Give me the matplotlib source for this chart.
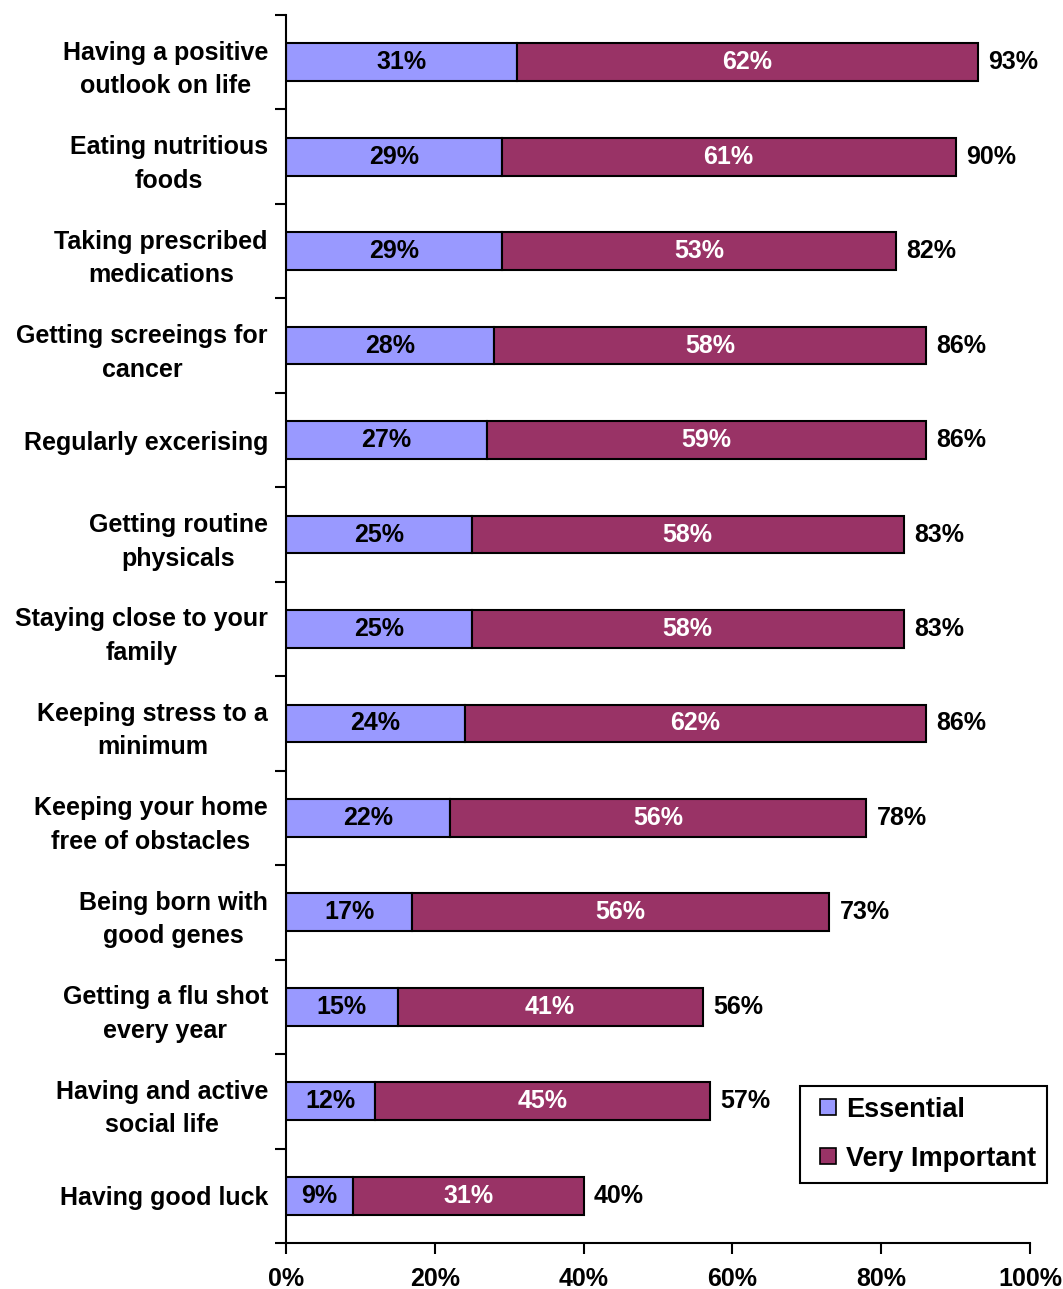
import matplotlib
matplotlib.use('Agg')
from matplotlib import pyplot as plt
from matplotlib.lines import Line2D
import numpy as np

plt.rcParams['font.family'] = ['Liberation Sans', 'DejaVu Sans']
plt.rcParams['font.weight'] = 'bold'

categories = ['Having a positive\noutlook on life', 'Eating nutritious\nfoods',
              'Taking prescribed\nmedications', 'Getting screeings for\ncancer',
              'Regularly excerising', 'Getting routine\nphysicals',
              'Staying close to your\nfamily', 'Keeping stress to a\nminimum',
              'Keeping your home\nfree of obstacles', 'Being born with\ngood genes',
              'Getting a flu shot\nevery year', 'Having and active\nsocial life',
              'Having good luck']
essential = [31, 29, 29, 28, 27, 25, 25, 24, 22, 17, 15, 12, 9]
very_important = [62, 61, 53, 58, 59, 58, 58, 62, 56, 56, 41, 45, 31]
totals = [93, 90, 82, 86, 86, 83, 83, 86, 78, 73, 56, 57, 40]

c_ess = '#9999FF'
c_vi = '#993366'
fs = 18

fig = plt.figure(figsize=(10.63, 12.89), dpi=100)
ax = fig.add_axes([0.269, 0.0357, 0.7, 0.9527])

y = np.arange(len(categories))
ax.barh(y, essential, height=0.4, color=c_ess, edgecolor='black', linewidth=1.5)
ax.barh(y, very_important, left=essential, height=0.4, color=c_vi,
        edgecolor='black', linewidth=1.5)

for i in range(len(categories)):
    ax.text(essential[i] / 2, y[i], '%d%%' % essential[i], ha='center', va='center',
            fontsize=fs, fontweight='bold', color='black')
    ax.text(essential[i] + very_important[i] / 2, y[i], '%d%%' % very_important[i],
            ha='center', va='center', fontsize=fs, fontweight='bold', color='white')
    ax.text(essential[i] + very_important[i] + 1.4, y[i], '%d%%' % totals[i],
            ha='left', va='center', fontsize=fs, fontweight='bold', color='black')

ax.set_xlim(0, 100)
ax.set_ylim(len(categories) - 0.5, -0.5)
ax.set_xticks(np.arange(0, 101, 20))
ax.set_xticklabels(['%d%%' % v for v in range(0, 101, 20)], fontsize=fs, fontweight='bold')
ax.set_yticks(y)
ax.set_yticklabels(categories, fontsize=fs, fontweight='bold', linespacing=1.5,
                   multialignment='center')
ax.set_yticks(np.arange(-0.5, len(categories), 1), minor=True)
ax.tick_params(axis='y', which='major', length=0, pad=13)
ax.tick_params(axis='y', which='minor', length=8, width=1.5, direction='out')
ax.tick_params(axis='x', which='major', length=8, width=1.5, direction='out', pad=9)

for s in ['top', 'right']:
    ax.spines[s].set_visible(False)
for s in ['left', 'bottom']:
    ax.spines[s].set_linewidth(1.5)

handles = [Line2D([], [], marker='s', linestyle='none', markersize=11,
                  markerfacecolor=c_ess, markeredgecolor='black', markeredgewidth=1.2,
                  label='Essential'),
           Line2D([], [], marker='s', linestyle='none', markersize=11,
                  markerfacecolor=c_vi, markeredgecolor='black', markeredgewidth=1.2,
                  label='Very Important')]
leg = fig.legend(handles=handles, loc='upper left', bbox_to_anchor=(0.7526, 0.1575),
                 frameon=True, fancybox=False, edgecolor='black', framealpha=1,
                 numpoints=1, handlelength=1.3, handletextpad=0.0,
                 labelspacing=0.85, borderpad=0.4, borderaxespad=0,
                 prop={'weight': 'bold', 'size': 19.5})
leg.get_frame().set_linewidth(1.5)

fig.savefig('out.png', dpi=100)
